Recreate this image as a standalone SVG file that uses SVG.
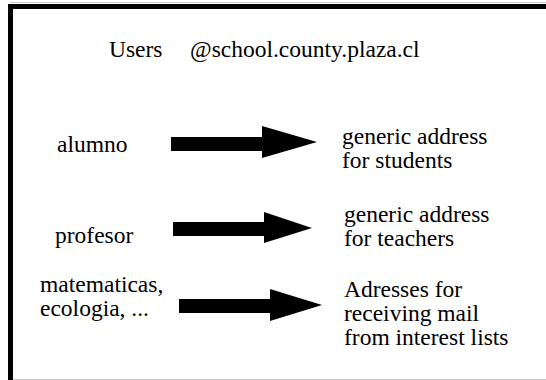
<svg xmlns="http://www.w3.org/2000/svg" width="546" height="380" viewBox="0 0 546 380">
  <style>
    .t { font-family: 'Liberation Serif', 'Times New Roman', serif; font-size: 23.5px; fill: #000; }
    .arrow { fill: #000; }
  </style>
  <rect width="546" height="380" fill="#fff"/>
  <g id="frame">
    <line x1="10" y1="2.5" x2="546" y2="2.5" stroke="#c8c8c8" stroke-width="1"/>
    <rect x="8" y="4" width="538" height="5" fill="#000"/>
    <rect x="8" y="4" width="5" height="376" fill="#000"/>
    <line x1="13" y1="379.5" x2="546" y2="379.5" stroke="#c8c8c8" stroke-width="1"/>
  </g>
  <g id="title" class="t">
    <text x="109" y="57">Users</text>
    <text x="190" y="57">@school.county.plaza.cl</text>
  </g>
  <g id="alumno" class="t"><text x="57" y="152">alumno</text></g>
  <g id="students" class="t">
    <text x="342" y="144">generic address</text>
    <text x="342" y="168">for students</text>
  </g>
  <g id="profesor" class="t"><text x="55" y="243">profesor</text></g>
  <g id="teachers" class="t">
    <text x="344" y="222">generic address</text>
    <text x="344" y="246">for teachers</text>
  </g>
  <g id="lists" class="t">
    <text x="40" y="292">matematicas,</text>
    <text x="40" y="316">ecologia, ...</text>
  </g>
  <g id="interest" class="t">
    <text x="344" y="297">Adresses for</text>
    <text x="344" y="321">receiving mail</text>
    <text x="344" y="345">from interest lists</text>
  </g>
  <g id="connectors">
    <polygon class="arrow" points="171,137 262,137 262,126 317,142 262,158 262,151 171,151"/>
    <polygon class="arrow" points="173,222 264,222 264,212 312,228 264,243 264,236 173,236"/>
    <polygon class="arrow" points="179,299 270,299 270,289 322,305 270,321 270,313 179,313"/>
  </g>
</svg>
